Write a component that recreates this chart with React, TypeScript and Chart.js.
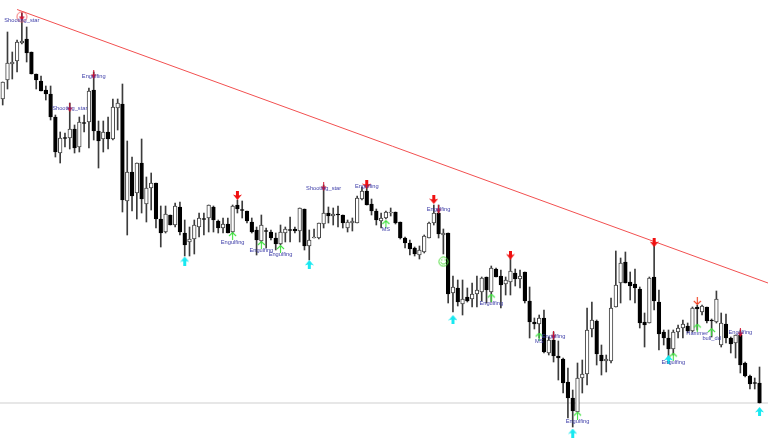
import React, { useEffect, useRef } from "react";
import { Chart, registerables } from "chart.js";

Chart.register(...registerables);

const opens = [
  99,80,64,61,43,39,52,74,81,90,
  94,117,153,137.5,138,129,147,122.5,122,90,
  131,139,132,139,108,104,201,172,193,163,
  204,188,183,219,232,215,225,207,233,242,
  239,227,218.5,218,207,221,228,224,232,205,
  209.5,211,222,230,241,230.5,232,238,244,233,
  229.5,229,231,209,246,238,238,224,213,216,
  214,215,228,223,223,199,191,204,211,221,
  218,213,212,222,238,243,248,255,252,238,
  223,213,235,233,293,288,304,297,299,294,
  292,277,292,269,276,284,282,273,279,272,
  301,322,324,318,353,340,356,359,382,398,
  412,378,374,329,321,355,361,361,307,283,
  262,282,284,289,322,323,277,302,332,338,
  349,332,328,326,331,307,312,307,320,322,
  345,324,338,343,335,363,376,382.5,383,
];
const closes = [
  82,63,62,42,41,53,74,80,91,94,
  117,152,138,138.5,129,148,122,123.5,91,131,
  141,132,139,107,103,200,172,196,163,199,
  188,183,219,233,214,225,206,232,245,239,
  225,218,219.5,205,220,228,224,233,206,209,
  210.5,221,232,240,225,231.5,238,244,232,229,
  230.5,231,208,246,240,237,223,213,216,214,
  215,223,222,221,198,191,205,211,220,218,
  212,212,223,238,243,249,254,250,236,223,
  213,234,233,294,287,302,299,301,294,290,
  278,290,268,277,285,280,271,279,276,301,
  322,324,318,352,340,356,358,383,398,411,
  378,374,330,320,354,361,359,308,285,263,
  283,286,288,323,325,278,301,334,338,349,
  332,328,324,331,308,309,306,321,321,299,
  323,338,344,335,365,376,384,383.5,403,
];
const highs = [
  82,32,52,40,13,27,52,74,76,86,
  86,115,132,133,103,125,117,115,88,72,
  121,121,117,99,99,84,141,157,163,139,
  177,173,183,206,206,215,203,202,220,227,
  220,213,213,205,206,220,218,218,205,200,
  201,211,218,227,215,228,230,233,225,227,
  217,227,208,209,230,229,223,185,207,208,
  206,215,220,218,196,187,185,199,209,213,
  211,208,212,222,237,240,247,246,235,222,
  205,205,229,233,276,280,280,288,283,276,
  277,277,266,268,270,277,258,269,270,272,
  287,318,315,310,337,332,341,358,368,390,
  363,360,308,302,320,345,355,298,251,258,
  252,272,269,287,313,277,245,290,330,330,
  330,325,320,323,307,305,305,307,319,291,
  313,314,337,335,330,362,375,378,367,
];
const lows = [
  105,89,79,72,44,62,74,89,91,100,
  120,157,163,147,149,153,152,132,148,140,
  168,152,149,140,130,212,235,211,219,213,
  222,210,228,247,233,225,227,235,256,256,
  254,237,235,232,232,233,233,233,233,213,
  218,223,233,255,242,248,240,250,245,242,
  242,233,242,250,260,238,239,228,223,225,
  227,228,232,231,223,200,205,215,225,228,
  219,216,224,239,248,255,256,259,253,238,
  225,238,254,303,312,306,315,302,307,307,
  301,303,302,277,308,295,295,286,288,303,
  338,329,338,353,355,362,380,393,418,427,
  412,393,385,337,365,375,372,363,307,303,
  283,300,303,328,347,323,310,350,345,358,
  355,338,338,333,332,330,315,323,337,323,
  347,343,353,358,373,377,389,389,403,
];

const trendX = [3, 159.77];
const trendLevel = [9.5, 283];
const supportLevel = 403;

// [candle index, level]
const redDown: number[][] = [[49,195.5],[76,184.5],[90,199.5],[106,255],[136,242.5]];
const thinRed: number[][] = [[4,16.5],[14,107.5],[19,74.5],[67,186.5],[91,209],[115,335],[154,332.5]];
const orangeDown: number[][] = [[145,301]];
const cyanUp: number[][] = [[38,261],[64,264.5],[94,319.5],[119,433],[139,359.5],[158,411.5]];
const greenUp: number[][] = [[48,236],[54,245],[58,249],[80,224],[102,297.5],[112,336.5],[120,415.5],[140,356.5],[145,327.5],[148,332]];
const smiley: number[][] = [[92,261.7]];
const starCircle: number[][] = [[4,16.7]];

const labelIndex = [4,14,19,48,54,58,67,76,80,91,102,112,115,120,140,145,148,154];
const labelLevel = [20.7,108,76,242.7,250.7,254.3,188,186,229.5,209.5,303,341.7,336.7,421,362.3,333.3,338,332.7];
const labelText = ["Shooting_star","Shooting_star","Engulfing","Engulfing","Engulfing","Engulfing","Shooting_star","Engulfing","MS","Engulfing","Engulfing","MS","Engulfing","Engulfing","Engulfing","Hammer","bull_dd","Engulfing"];

function icon(w: number, h: number, draw: (c: CanvasRenderingContext2D) => void) {
  const cv = document.createElement("canvas");
  cv.width = w;
  cv.height = h;
  draw(cv.getContext("2d") as CanvasRenderingContext2D);
  return cv;
}

function blockArrow(color: string, down: boolean) {
  return icon(9, 9, (c) => {
    c.fillStyle = color;
    if (!down) { c.translate(0, 9); c.scale(1, -1); }
    c.fillRect(3, 0, 3, 5);
    c.beginPath();
    c.moveTo(0, 3.5); c.lineTo(4.5, 9); c.lineTo(9, 3.5); c.lineTo(6, 4.5); c.lineTo(3, 4.5);
    c.closePath();
    c.fill();
  });
}

function slimDownArrow(color: string) {
  return icon(7, 9, (c) => {
    c.fillStyle = color;
    c.fillRect(3, 0, 1, 6);
    c.beginPath();
    c.moveTo(0.8, 4.5); c.lineTo(3.5, 9); c.lineTo(6.2, 4.5);
    c.closePath();
    c.fill();
  });
}

function thinArrow(color: string, down: boolean) {
  return icon(9, 8, (c) => {
    c.strokeStyle = color;
    c.lineWidth = 1.1;
    if (down) { c.translate(0, 8); c.scale(1, -1); }
    c.beginPath();
    c.moveTo(4.5, 8); c.lineTo(4.5, 0.6);
    c.moveTo(1, 4); c.lineTo(4.5, 0.6); c.lineTo(8, 4);
    c.stroke();
  });
}

const pts = (a: number[][]) => a.map(([x, y]) => ({ x, y }));

const labelsPlugin = {
  id: "patternLabels",
  afterDatasetsDraw(chart: any) {
    const { ctx, scales } = chart;
    ctx.save();
    ctx.font = '5.7px "Liberation Sans"';
    ctx.textAlign = "center";
    ctx.textBaseline = "middle";
    ctx.fillStyle = "#3d3da8";
    labelText.forEach((t, i) => {
      ctx.fillText(t, scales.x.getPixelForValue(labelIndex[i]), scales.y.getPixelForValue(labelLevel[i]));
    });
    ctx.restore();
  },
};

export default function App() {
  const ref = useRef<HTMLCanvasElement>(null);
  useEffect(() => {
    const marker = (data: number[][], style: any) => ({
      type: "scatter" as const,
      data: pts(data),
      pointStyle: style,
      pointRadius: 5,
      showLine: false,
      order: 1,
    });
    const smile = icon(11, 11, (c) => {
      c.strokeStyle = "#55dd44";
      c.lineWidth = 1;
      c.beginPath(); c.arc(5.5, 5.5, 4.6, 0, Math.PI * 2); c.stroke();
      c.beginPath(); c.arc(5.5, 5.2, 2.8, 0.2, Math.PI - 0.2); c.stroke();
      c.fillStyle = "#55dd44";
      c.fillRect(3.2, 3.2, 1.2, 1.2);
      c.fillRect(6.6, 3.2, 1.2, 1.2);
    });
    const ring = icon(12, 12, (c) => {
      c.strokeStyle = "#f06060";
      c.lineWidth = 0.9;
      c.beginPath(); c.arc(6, 6, 5, 0, Math.PI * 2); c.stroke();
    });
    const chart = new Chart(ref.current as HTMLCanvasElement, {
      type: "bar",
      data: {
        datasets: [
          {
            type: "line",
            data: [{ x: -1, y: supportLevel }, { x: 160, y: supportLevel }],
            borderColor: "#cfcfcf",
            borderWidth: 1,
            pointRadius: 0,
            order: 9,
          },
          {
            data: highs.map((h, i) => ({ x: i, y: [h, lows[i]] })),
            backgroundColor: "#3c3c3c",
            barThickness: 1,
            grouped: false,
            order: 8,
          },
          {
            data: opens.map((o, i) => ({ x: i, y: [o, closes[i]] })),
            backgroundColor: opens.map((o, i) => (closes[i] < o ? "#ffffff" : "#000000")),
            borderColor: opens.map((o, i) => (closes[i] < o ? "#444444" : "#000000")),
            borderWidth: 1,
            borderSkipped: false,
            barThickness: 3.7,
            grouped: false,
            order: 7,
          },
          {
            type: "line",
            data: trendX.map((x, i) => ({ x, y: trendLevel[i] })),
            borderColor: "#f25050",
            borderWidth: 1,
            pointRadius: 0,
            order: 6,
          },
          marker(starCircle, ring),
          marker(redDown, blockArrow("#f01010", true)),
          marker(thinRed, slimDownArrow("#d01030")),
          marker(orangeDown, thinArrow("#f04020", true)),
          marker(cyanUp, blockArrow("#18e8f0", false)),
          marker(greenUp, thinArrow("#40e040", false)),
          marker(smiley, smile),
        ] as any,
      },
      options: {
        animation: false,
        responsive: false,
        layout: { padding: 0, autoPadding: false },
        plugins: { legend: { display: false }, tooltip: { enabled: false } },
        scales: {
          x: { type: "linear", display: false, offset: false, min: -0.564, max: 159.77 },
          y: { type: "linear", display: false, min: 0, max: 439, reverse: true },
        },
      },
      plugins: [labelsPlugin],
    } as any);
    return () => chart.destroy();
  }, []);
  return (
    <div style={{ position: "fixed", left: 0, top: 0, width: 768, height: 439, background: "#fff" }}>
      <canvas ref={ref} width={768} height={439} style={{ display: "block", filter: "blur(0.3px)" }} />
    </div>
  );
}
